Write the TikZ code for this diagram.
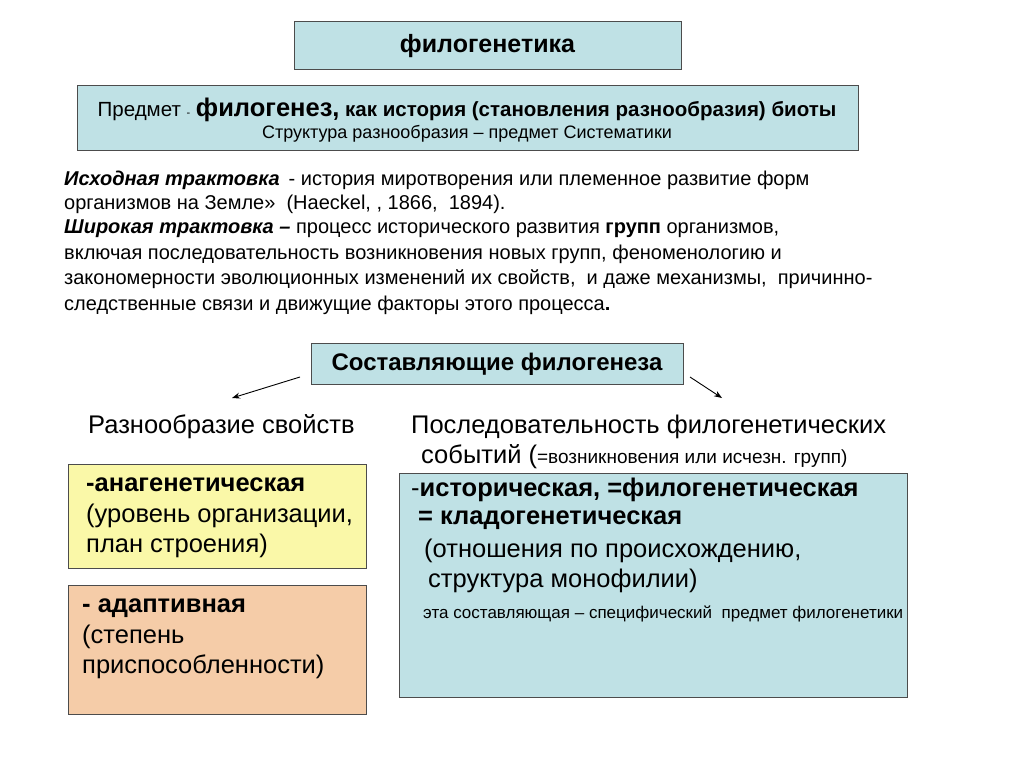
\documentclass[tikz,border=0pt]{standalone}
\usepackage{fontspec}
\setmainfont{Liberation Sans}
\usetikzlibrary{arrows.meta}
\begin{document}
\begin{tikzpicture}[x=1pt,y=-1pt,
 bx/.style={draw=black!70,line width=0.8pt},
 t/.style={anchor=west,inner sep=0pt},
 sm/.style={font=\fontsize{20}{24}\selectfont},
 big/.style={font=\fontsize{25.5}{30.5}\selectfont}]
\definecolor{lb}{RGB}{191,225,229}
\definecolor{ye}{RGB}{250,248,168}
\definecolor{pe}{RGB}{245,204,168}
\useasboundingbox (0,0) rectangle (1024,768);
\draw[bx,fill=lb] (294,21) rectangle (681,69);
\node[inner sep=0pt,font=\fontsize{25}{28}\selectfont\bfseries] (t1) at (487.5,46) {филогенетика};
\draw[bx,fill=lb] (77,85) rectangle (858,150);
\node[inner sep=0pt] (t2) at (467,110) {\fontsize{20.5}{24}\selectfont Предмет {\fontsize{11}{11}\selectfont -} {\fontsize{25.5}{28}\selectfont\bfseries филогенез,} \textbf{как история (становления разнообразия) биоты}};
\node[inner sep=0pt,font=\fontsize{18}{21}\selectfont] (t3) at (467,134) {Структура разнообразия – предмет Систематики};
\node[t,sm] (p1) at (64,180) {\textbf{\textit{Исходная трактовка}} \,- история миротворения или племенное развитие форм};
\node[t,sm] (p2) at (64,204) {организмов на Земле»\ \ (Haeckel, , 1866,\ \ 1894).};
\node[t,sm] (p3) at (64,229) {\textbf{\textit{Широкая трактовка –}} процесс исторического развития \textbf{групп} организмов,};
\node[t,sm] (p4) at (64,254) {включая последовательность возникновения новых групп, феноменологию и};
\node[t,sm] (p5) at (64,279) {закономерности эволюционных изменений их свойств,\ \ и даже механизмы,\ \ причинно-};
\node[t,sm] (p6) at (64,305) {следственные связи и движущие факторы этого процесса\textbf{.}};
\draw[bx,fill=lb] (311,343) rectangle (683,384);
\node[inner sep=0pt,font=\fontsize{24}{28}\selectfont\bfseries] (c) at (497,364) {Составляющие филогенеза};
\coordinate (a1) at (300,377); \coordinate (a2) at (232,398);
\coordinate (b1) at (690,377); \coordinate (b2) at (722,398);
\draw[-{Stealth[length=8pt,width=6pt]},line width=0.9pt] (a1) -- (a2);
\draw[-{Stealth[length=8pt,width=6pt]},line width=0.9pt] (b1) -- (b2);
\node[t,big] (l) at (88,427) {Разнообразие свойств};
\node[t,big] (r1) at (411,427) {Последовательность филогенетических};
\node[t,big] (r2) at (421,457) {событий (\fontsize{19}{22}\selectfont =возникновения или исчезн. групп)};
\draw[bx,fill=ye] (68,464) rectangle (366,568);
\node[t,big,align=left,anchor=north west] (y) at (86,478) {\textbf{-анагенетическая}\\(уровень организации,\\план строения)};
\draw[bx,fill=pe] (68,585) rectangle (366,714);
\node[t,big,align=left,anchor=north west] (pp) at (82,599) {\textbf{- адаптивная}\\(степень\\приспособленности)};
\draw[bx,fill=lb] (399,473) rectangle (907,697);
\node[t,big] (q1) at (411,490) {-\textbf{историческая, =филогенетическая}};
\node[t,big] (q2) at (418,520) {\textbf{= кладогенетическая}};
\node[t,big] (q3) at (424,551) {(отношения по происхождению,};
\node[t,big] (q4) at (428,581) {структура монофилии)};
\node[t,font=\fontsize{17}{20}\selectfont] (q5) at (423,614) {эта составляющая – специфический\ \ предмет филогенетики};
\end{tikzpicture}
\end{document}
